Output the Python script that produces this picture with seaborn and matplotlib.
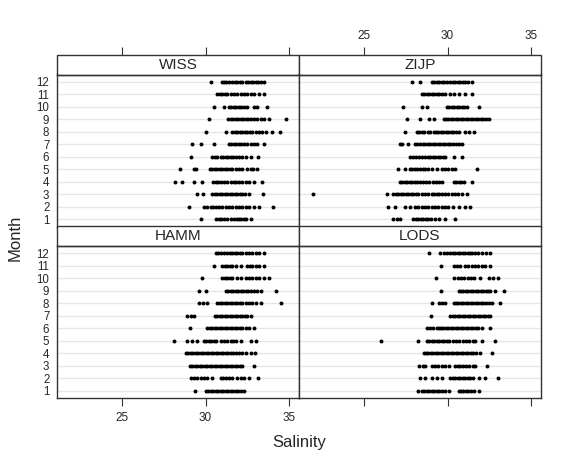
import matplotlib
matplotlib.use("Agg")
import matplotlib.pyplot as plt
from matplotlib.patches import Rectangle
import pandas as pd
import seaborn as sns

# salinity readings per month
wiss = {
    1: [29.7, 30.64, 30.8, 30.95, 31.1, 31.3, 31.5, 31.7, 31.9, 32.0, 32.15, 32.3, 32.45, 32.7],
    2: [29.0, 29.9, 30.1, 30.3, 30.45, 30.6, 30.8, 31.0, 31.2, 31.4, 31.6, 31.8, 32.0, 32.2, 32.4, 32.6, 32.9, 33.2, 34.06],
    3: [29.5, 29.84, 30.4, 30.55, 30.7, 30.85, 31.0, 31.15, 31.3, 31.45, 31.6, 31.75, 31.9, 32.05, 32.2, 32.35, 32.6, 33.44],
    4: [28.2, 28.56, 29.3, 29.8, 30.46, 30.6, 30.75, 30.9, 31.1, 31.3, 31.5, 31.7, 31.85, 32.0, 32.2, 32.4, 32.6, 32.9, 33.36],
    5: [28.46, 29.3, 29.45, 30.26, 30.4, 30.55, 30.7, 30.85, 31.0, 31.15, 31.3, 31.45, 31.6, 31.8, 32.0, 32.2, 32.5, 32.7, 32.85, 33.1],
    6: [29.1, 30.4, 30.55, 30.7, 30.9, 31.05, 31.2, 31.35, 31.5, 31.65, 31.8, 32.0, 32.2, 32.4, 32.7, 33.14],
    7: [29.2, 29.74, 30.5, 31.4, 31.55, 31.7, 31.85, 32.0, 32.15, 32.3, 32.5, 32.7, 32.9, 33.1, 33.5],
    8: [30.04, 31.2, 31.6, 31.75, 31.9, 32.05, 32.2, 32.35, 32.5, 32.65, 32.8, 33.0, 33.2, 33.4, 33.6, 34.0, 34.46],
    9: [30.22, 31.34, 31.5, 31.65, 31.8, 31.95, 32.1, 32.25, 32.4, 32.55, 32.7, 32.9, 33.1, 33.3, 33.5, 33.8, 34.8],
    10: [30.5, 31.1, 31.4, 31.55, 31.7, 31.85, 32.0, 32.15, 32.3, 32.5, 32.9, 33.1, 33.7],
    11: [30.7, 30.85, 31.0, 31.15, 31.3, 31.5, 31.7, 31.9, 32.1, 32.3, 32.5, 32.7, 32.9, 33.2, 33.5],
    12: [30.32, 30.96, 31.1, 31.25, 31.4, 31.6, 31.76, 31.9, 32.05, 32.2, 32.4, 32.55, 32.7, 32.85, 33.0, 33.15, 33.3, 33.5],
}
zijp = {
    1: [26.76, 26.95, 27.16, 27.96, 28.1, 28.25, 28.4, 28.55, 28.7, 28.85, 29.0, 29.26, 29.46, 29.86, 30.46],
    2: [26.46, 26.86, 27.46, 27.76, 28.06, 28.25, 28.45, 28.65, 28.85, 29.05, 29.25, 29.45, 29.65, 29.85, 30.05, 30.3, 30.66, 31.06, 31.36],
    3: [21.96, 26.36, 26.76, 26.9, 27.05, 27.2, 27.35, 27.5, 27.65, 27.8, 27.95, 28.1, 28.25, 28.45, 28.65, 28.85, 29.05, 29.2,
        29.35, 29.5, 29.65, 29.85, 30.05, 30.25, 30.45, 30.65, 30.86, 31.16],
    4: [27.16, 27.3, 27.45, 27.6, 27.75, 27.9, 28.05, 28.2, 28.35, 28.5, 28.7, 28.9, 29.1, 29.3, 29.5, 29.66, 30.36, 30.5, 30.66,
        30.8, 30.96, 31.46],
    5: [27.02, 27.46, 27.76, 27.9, 28.05, 28.2, 28.35, 28.5, 28.65, 28.8, 29.06, 29.36, 29.66, 29.85, 30.05, 30.25, 30.46, 31.76],
    6: [27.76, 27.95, 28.1, 28.3, 28.46, 28.66, 28.8, 28.95, 29.1, 29.25, 29.4, 29.55, 29.7, 29.86, 30.36, 30.86],
    7: [27.16, 27.3, 27.66, 28.06, 28.2, 28.35, 28.5, 28.65, 28.8, 28.95, 29.1, 29.25, 29.4, 29.55, 29.7, 29.85, 30.0, 30.15,
        30.3, 30.5, 30.7, 30.86],
    8: [27.46, 28.16, 28.3, 28.45, 28.6, 28.8, 28.96, 29.16, 29.3, 29.45, 29.6, 29.75, 29.9, 30.05, 30.2, 30.35, 30.5, 30.66,
        31.06, 31.3, 31.56],
    9: [27.56, 28.36, 28.86, 29.16, 29.76, 29.9, 30.05, 30.2, 30.35, 30.5, 30.65, 30.8, 30.95, 31.1, 31.25, 31.4, 31.55, 31.7,
        31.85, 32.0, 32.15, 32.3, 32.46],
    10: [27.36, 28.46, 28.76, 29.96, 30.1, 30.25, 30.4, 30.55, 30.7, 30.85, 31.0, 31.16, 31.86],
    11: [28.46, 28.6, 28.75, 28.9, 29.05, 29.2, 29.35, 29.5, 29.65, 29.86, 30.16, 30.4, 30.66, 31.06, 31.46],
    12: [27.9, 28.36, 29.06, 29.2, 29.35, 29.5, 29.65, 29.8, 29.96, 30.16, 30.3, 30.45, 30.6, 30.75, 30.9, 31.05, 31.2, 31.46],
}
hamm = {
    1: [29.34, 30.0, 30.15, 30.3, 30.45, 30.6, 30.75, 30.9, 31.05, 31.2, 31.35, 31.5, 31.65, 31.8, 31.95, 32.1, 32.3],
    2: [29.1, 29.3, 29.5, 29.7, 29.9, 30.1, 30.4, 30.9, 31.05, 31.2, 31.4, 31.6, 31.9, 32.1, 32.3, 32.6, 33.14],
    3: [29.06, 29.2, 29.35, 29.5, 29.65, 29.8, 29.95, 30.1, 30.25, 30.4, 30.55, 30.7, 30.85, 31.0, 31.15, 31.3, 31.45, 31.6,
        31.75, 31.9, 32.05, 32.2, 32.9],
    4: [28.8, 28.95, 29.1, 29.25, 29.4, 29.55, 29.7, 29.85, 30.0, 30.15, 30.3, 30.45, 30.6, 30.75, 30.9, 31.05, 31.2, 31.35,
        31.5, 31.65, 31.8, 32.0, 32.2, 32.4, 32.7, 32.94],
    5: [28.14, 28.9, 29.2, 29.5, 29.9, 30.05, 30.2, 30.35, 30.5, 30.65, 30.9, 31.1, 31.3, 31.5, 31.65, 31.8, 32.1, 32.7, 33.0],
    6: [29.06, 30.1, 30.25, 30.4, 30.55, 30.7, 30.85, 31.0, 31.15, 31.3, 31.45, 31.6, 31.75, 31.9, 32.05, 32.2, 32.4, 32.6, 32.9],
    7: [28.9, 29.1, 29.3, 30.54, 30.7, 30.85, 31.0, 31.15, 31.3, 31.45, 31.6, 31.75, 31.9, 32.05, 32.2, 32.35, 32.5, 32.7],
    8: [29.6, 29.85, 30.1, 30.7, 30.85, 31.0, 31.15, 31.3, 31.45, 31.6, 31.75, 31.9, 32.05, 32.2, 32.4, 32.6, 32.8, 33.0,
        33.3, 34.54],
    9: [29.6, 30.0, 31.2, 31.35, 31.5, 31.65, 31.8, 31.95, 32.1, 32.25, 32.4, 32.55, 32.7, 32.9, 33.1, 33.3, 34.24],
    10: [29.8, 31.0, 31.15, 31.3, 31.45, 31.6, 31.9, 32.1, 32.4, 32.6, 32.8, 33.0, 33.2, 33.5, 33.8],
    11: [30.5, 31.0, 31.15, 31.3, 31.45, 31.6, 31.8, 32.1, 32.5, 32.65, 32.8, 33.0, 33.2, 33.5],
    12: [30.6, 30.75, 30.9, 31.1, 31.3, 31.45, 31.6, 31.75, 31.9, 32.05, 32.2, 32.4, 32.6, 32.8, 33.0, 33.2, 33.5],
}
lods = {
    1: [28.26, 28.45, 28.6, 28.75, 28.9, 29.05, 29.2, 29.35, 29.5, 29.65, 29.85, 30.06, 30.66, 30.8, 30.95, 31.1, 31.25,
        31.4, 31.56, 31.86],
    2: [28.36, 28.66, 29.06, 29.36, 29.66, 30.16, 30.3, 30.45, 30.6, 30.75, 30.9, 31.05, 31.2, 31.35, 31.5, 31.86, 32.26, 33.02],
    3: [28.3, 28.5, 28.66, 29.06, 29.25, 29.45, 29.65, 29.86, 30.06, 30.46, 30.6, 30.75, 30.9, 31.1, 31.3, 31.5, 31.66, 32.36],
    4: [28.56, 28.7, 28.85, 29.0, 29.15, 29.3, 29.45, 29.6, 29.75, 29.9, 30.05, 30.2, 30.35, 30.5, 30.65, 30.8, 30.95, 31.1,
        31.25, 31.4, 31.55, 31.7, 31.96, 32.66],
    5: [26.02, 28.22, 28.76, 28.9, 29.05, 29.2, 29.35, 29.5, 29.65, 29.8, 29.95, 30.1, 30.3, 30.5, 30.7, 30.9, 31.1, 31.3,
        31.5, 31.66, 32.06, 32.86],
    6: [28.76, 28.95, 29.15, 29.36, 29.46, 29.6, 29.75, 29.9, 30.05, 30.2, 30.35, 30.5, 30.65, 30.8, 30.95, 31.1, 31.25,
        31.4, 31.55, 31.7, 31.85, 32.06, 32.56],
    7: [29.02, 30.16, 30.3, 30.45, 30.6, 30.75, 30.9, 31.05, 31.2, 31.35, 31.5, 31.65, 31.8, 31.95, 32.1, 32.25, 32.4, 32.56],
    8: [29.06, 29.46, 29.66, 29.86, 30.36, 30.5, 30.65, 30.8, 30.95, 31.1, 31.25, 31.4, 31.55, 31.7, 31.85, 32.0, 32.15,
        32.3, 32.46, 32.66, 33.12],
    9: [29.62, 30.66, 30.8, 30.95, 31.1, 31.25, 31.4, 31.55, 31.7, 31.85, 32.0, 32.15, 32.3, 32.45, 32.56, 32.86, 33.36],
    10: [29.3, 30.36, 30.6, 30.8, 31.0, 31.2, 31.4, 31.56, 31.96, 32.46, 32.7, 33.02],
    11: [29.62, 30.36, 30.55, 30.76, 31.06, 31.25, 31.45, 31.65, 31.85, 32.05, 32.25, 32.56],
    12: [28.86, 29.56, 29.76, 29.96, 30.16, 30.3, 30.45, 30.6, 30.75, 30.9, 31.05, 31.2, 31.35, 31.46, 31.66, 31.85, 32.05,
         32.3, 32.56],
}
stations = ["WISS", "ZIJP", "HAMM", "LODS"]
months = list(range(1, 13))
x_ticks = [25, 30, 35]

rows = []
for name, d in zip(stations, [wiss, zijp, hamm, lods]):
    for m in months:
        for v in d[m]:
            rows.append({"Station": name, "Month": m, "Salinity": v})
df = pd.DataFrame(rows)

sns.set_style("white")
plt.rcParams["font.family"] = ["Liberation Sans", "DejaVu Sans"]

g = sns.FacetGrid(df, col="Station", col_wrap=2, col_order=stations,
                  sharex=True, sharey=True, despine=False, height=2, aspect=1.5)
g.map_dataframe(sns.scatterplot, x="Salinity", y="Month", color="black",
                s=8, linewidth=0)
g.set_titles("")

fig = g.figure
fig.set_size_inches(5.72, 4.66)
panel_h = 152.0
strip_h = 19.5
fig.subplots_adjust(left=57 / 572, right=541 / 572, top=1 - 74.5 / 466,
                    bottom=1 - 398 / 466, wspace=0, hspace=strip_h / panel_h)
strip_frac = strip_h / panel_h

for i, ax in enumerate(g.axes.flat):
    name = stations[i]
    ax.set_xlim(21.1, 35.6)
    ax.set_ylim(0.4, 12.6)
    ax.set_yticks(months)
    ax.set_xticks(x_ticks)
    ax.set_xlabel("")
    ax.set_ylabel("")
    ax.grid(axis="y", color="#e6e6e6", lw=1)
    ax.grid(axis="x", visible=False)
    ax.set_axisbelow(True)
    for sp in ax.spines.values():
        sp.set_color("#333333")
        sp.set_linewidth(1)

    left_col = i % 2 == 0
    top_row = i < 2
    ax.tick_params(axis="y", length=0, pad=5.5, labelsize=8.3, labelleft=left_col)
    if top_row:
        ax.tick_params(axis="x", bottom=False, labelbottom=False)
        sec = ax.secondary_xaxis(1 + strip_frac)
        sec.set_xticks(x_ticks)
        sec.spines["top"].set_visible(False)
        sec.tick_params(axis="x", length=6, width=0.8, color="#333333",
                        labelsize=8.5, labeltop=not left_col, pad=3)
        if left_col:
            sec.set_xticklabels([])
    else:
        ax.tick_params(axis="x", bottom=True, length=6, width=0.8, color="#333333",
                       labelsize=8.5, labelbottom=left_col, pad=4)

    # strip header
    ax.add_patch(Rectangle((0, 1), 1, strip_frac, transform=ax.transAxes,
                           facecolor="white", edgecolor="#333333", lw=1,
                           clip_on=False))
    ax.text(0.5, 1 + strip_frac / 2, name, transform=ax.transAxes,
            ha="center", va="center", fontsize=11)

fig.text(299 / 572, 1 - 443 / 466, "Salinity", ha="center", va="center", fontsize=12)
fig.text(15 / 572, 1 - 238 / 466, "Month", ha="center", va="center",
         rotation=90, fontsize=12)

fig.savefig("out.png", dpi=100)
